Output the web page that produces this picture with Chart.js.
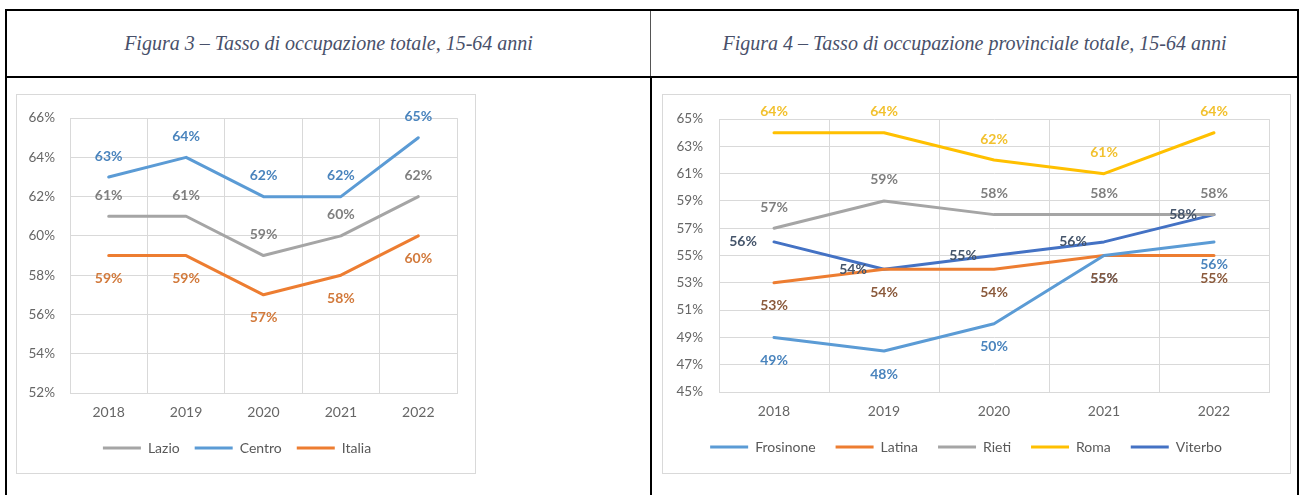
<!DOCTYPE html>
<html>
<head>
<meta charset="utf-8">
<script src="https://cdn.jsdelivr.net/npm/chart.js@4/dist/chart.umd.min.js"></script>
<style>
  body { margin: 0; width: 1303px; height: 495px; background: #fff; position: relative; overflow: hidden; }
  .ln { position: absolute; background: #000; }
  .title { position: absolute; top: 11px; height: 65px; display: flex; align-items: center; justify-content: center;
           font: italic 20px "Liberation Serif", serif; color: #48506a; }
  .frame { position: absolute; border: 1px solid #d9d9d9; }
  .frame canvas { display: block; }
</style>
</head>
<body>
<!-- table lines -->
<div class="ln" style="left:5px;top:9px;width:1294px;height:2px"></div>
<div class="ln" style="left:5px;top:76px;width:1294px;height:2px"></div>
<div class="ln" style="left:5px;top:9px;width:2px;height:486px"></div>
<div class="ln" style="left:1297px;top:9px;width:2px;height:486px"></div>
<div class="ln" style="left:650px;top:11px;width:1px;height:65px;background:#555"></div>
<div class="ln" style="left:650px;top:78px;width:2px;height:417px"></div>

<div class="title" style="left:7px;width:643px">Figura 3 – Tasso di occupazione totale, 15-64 anni</div>
<div class="title" style="left:652px;width:645px">Figura 4 – Tasso di occupazione provinciale totale, 15-64 anni</div>

<div class="frame" style="left:16px;top:94px;width:458px;height:378px"><canvas id="fig3" width="458" height="378"></canvas></div>
<div class="frame" style="left:662px;top:94px;width:627px;height:378px"><canvas id="fig4" width="627" height="378"></canvas></div>

<script>
// values (percent)
const years = ['2018', '2019', '2020', '2021', '2022'];

const lazio = [61, 61, 59, 60, 62];
const centro = [63, 64, 62, 62, 65];
const italia = [59, 59, 57, 58, 60];

const frosinone = [49, 48, 50, 55, 56];
const latina = [53, 54, 54, 55, 55];
const rieti = [57, 59, 58, 58, 58];
const roma = [64, 64, 62, 61, 64];
const viterbo = [56, 54, 55, 56, 58];

const FONT = 'Lato, "Open Sans", sans-serif';

// writes "xx%" next to every point, the way the Excel charts do
const pointLabels = {
  id: 'pointLabels',
  afterDatasetsDraw(chart) {
    const ctx = chart.ctx;
    chart.data.datasets.forEach((ds, i) => {
      const meta = chart.getDatasetMeta(i);
      ctx.save();
      ctx.font = 'bold 14px ' + FONT;
      ctx.fillStyle = ds.labelColor;
      ctx.textAlign = 'center';
      ctx.textBaseline = 'middle';
      meta.data.forEach((pt, j) => {
        let x = pt.x, y = pt.y;
        if (ds.labelPos === 'above') y -= 21;
        else if (ds.labelPos === 'below') y += 23;
        else if (ds.labelPos === 'left') x -= 31;
        ctx.fillText(ds.data[j] + '%', x, y);
      });
      ctx.restore();
    });
  }
};

function line(label, data, color, labelColor, labelPos) {
  return {
    label: label, data: data, borderColor: color, backgroundColor: color,
    borderWidth: 3, pointRadius: 0, tension: 0, borderJoinStyle: 'round', borderCapStyle: 'round',
    labelColor: labelColor, labelPos: labelPos
  };
}

function makeChart(id, datasets, yMin, yMax, cfg) {
  const ctx = document.getElementById(id).getContext('2d');
  return new Chart(ctx, {
    type: 'line',
    data: { labels: years, datasets: datasets },
    options: {
      responsive: false,
      animation: false,
      devicePixelRatio: 1,
      layout: { padding: { top: 19, right: cfg.right, bottom: cfg.bottom, left: 0 } },
      plugins: {
        tooltip: { enabled: false },
        legend: {
          position: 'bottom',
          labels: {
            font: { family: FONT, size: 14 },
            color: '#595959',
            boxWidth: 38,
            boxHeight: 3,
            padding: cfg.legendPad,
            generateLabels(chart) {
              return Chart.defaults.plugins.legend.labels.generateLabels(chart).map(it => {
                it.fillStyle = it.strokeStyle;
                it.strokeStyle = 'rgba(0,0,0,0)';
                it.lineWidth = 0;
                return it;
              });
            }
          }
        }
      },
      scales: {
        x: {
          offset: true,
          grid: { offset: true, color: '#d9d9d9', drawTicks: false },
          border: { color: '#d9d9d9' },
          ticks: { color: '#666', font: { family: FONT, size: 14 }, padding: 11 },
          afterFit(scale) { scale.height = cfg.xHeight; }
        },
        y: {
          min: yMin, max: yMax,
          grid: { color: '#d9d9d9', drawTicks: false },
          border: { color: '#d9d9d9' },
          ticks: {
            stepSize: 2, color: '#666', font: { family: FONT, size: 13.5 }, padding: cfg.yPad,
            callback: v => v + '%'
          },
          afterFit(scale) { scale.width = cfg.yWidth; }
        }
      }
    },
    plugins: [pointLabels]
  });
}

makeChart('fig3', [
  line('Lazio', lazio, '#a5a5a5', '#7f7f7f', 'above'),
  line('Centro', centro, '#5b9bd5', '#4a84bd', 'above'),
  line('Italia', italia, '#ed7d31', '#d27a3c', 'below')
], 52, 66, { right: 18, bottom: 8, xHeight: 33, legendPad: 15, yWidth: 53, yPad: 15 });

makeChart('fig4', [
  line('Frosinone', frosinone, '#5b9bd5', '#4a84bd', 'below'),
  line('Latina', latina, '#ed7d31', '#8b5a3c', 'below'),
  line('Rieti', rieti, '#a5a5a5', '#7f7f7f', 'above'),
  line('Roma', roma, '#ffc000', '#f2c12e', 'above'),
  line('Viterbo', viterbo, '#4472c4', '#44546a', 'left')
], 45, 65, { right: 21, bottom: 9, xHeight: 28, legendPad: 20, yWidth: 56, yPad: 16 });
</script>
</body>
</html>
